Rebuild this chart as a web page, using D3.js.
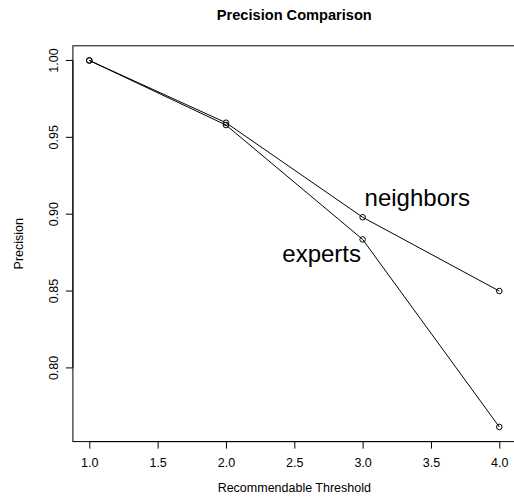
<!DOCTYPE html>
<html>
<head>
<meta charset="utf-8">
<script src="https://cdn.jsdelivr.net/npm/d3@7"></script>
<style>
  html, body { margin: 0; padding: 0; background: #fff; }
  svg { display: block; font-family: "Liberation Sans", Arial, Helvetica, sans-serif; }
</style>
</head>
<body>
<svg id="chart" width="514" height="504"></svg>
<script>
// ---- data ----
const thresholds = [1, 2, 3, 4];
const neighbors = [1.000, 0.9595, 0.898, 0.850];
const experts   = [1.000, 0.958, 0.8836, 0.7616];
const xTicks = [1.0, 1.5, 2.0, 2.5, 3.0, 3.5, 4.0];
const yTicks = [0.80, 0.85, 0.90, 0.95, 1.00];
const seriesLabels = ["neighbors", "experts"];
const labelX = [3.4, 2.7];
const labelY = [0.905, 0.869];

const title = "Precision Comparison";
const xTitle = "Recommendable Threshold";
const yTitle = "Precision";

// ---- layout ----
const svg = d3.select("#chart");
const mLeft = 72.9, mRight = 515.7, mTop = 45.8, mBottom = 441.6;

const xmin = d3.min(thresholds), xmax = d3.max(thresholds);
const allY = neighbors.concat(experts);
const ymin = d3.min(allY), ymax = d3.max(allY);
const xpad = (xmax - xmin) * 0.04, ypad = (ymax - ymin) * 0.04;

const x = d3.scaleLinear().domain([xmin - xpad, xmax + xpad]).range([mLeft, mRight]);
const y = d3.scaleLinear().domain([ymin - ypad, ymax + ypad]).range([mBottom, mTop]);

// box
svg.append("rect")
  .attr("x", mLeft).attr("y", mTop)
  .attr("width", mRight - mLeft).attr("height", mBottom - mTop)
  .attr("fill", "none").attr("stroke", "#000").attr("stroke-width", 1);

// x axis
const xAxis = d3.axisBottom(x).tickValues(xTicks).tickFormat(d3.format(".1f"))
  .tickSize(7).tickPadding(10);
const gx = svg.append("g").attr("transform", `translate(0,${mBottom})`).call(xAxis);
gx.select(".domain").attr("d", `M${x(xTicks[0])},0H${x(xTicks[xTicks.length-1])}`);
gx.selectAll("text").attr("font-size", "12.5px").attr("font-family", "Liberation Sans, Arial, sans-serif").attr("fill", "#000");

// y axis
const yAxis = d3.axisLeft(y).tickValues(yTicks).tickFormat(d3.format(".2f"))
  .tickSize(7).tickPadding(9);
const gy = svg.append("g").attr("transform", `translate(${mLeft},0)`).call(yAxis);
gy.select(".domain").attr("d", `M0,${y(yTicks[0])}V${y(yTicks[yTicks.length-1])}`);
gy.selectAll(".tick").attr("transform", null);
gy.selectAll(".tick line").attr("transform", d => `translate(0,${y(d)})`);
gy.selectAll(".tick text")
  .attr("font-size", "12.5px").attr("font-family", "Liberation Sans, Arial, sans-serif").attr("fill", "#000")
  .attr("x", 0).attr("y", 0).attr("dy", null)
  .attr("text-anchor", "middle")
  .attr("transform", d => `translate(-15,${y(d)}) rotate(-90)`);

// lines and points
const series = [neighbors, experts];
const line = d3.line().x((d, i) => x(thresholds[i])).y(d => y(d));
series.forEach(s => {
  svg.append("path").datum(s)
    .attr("d", line)
    .attr("fill", "none").attr("stroke", "#000").attr("stroke-width", 1);
  svg.selectAll(null).data(s).enter().append("circle")
    .attr("cx", (d, i) => x(thresholds[i]))
    .attr("cy", d => y(d))
    .attr("r", 2.8)
    .attr("fill", "none").attr("stroke", "#000").attr("stroke-width", 1);
});

// series labels
seriesLabels.forEach((lab, i) => {
  svg.append("text")
    .attr("x", x(labelX[i])).attr("y", y(labelY[i]))
    .attr("text-anchor", "middle")
    .attr("font-size", "24px")
    .text(lab);
});

// titles
svg.append("text")
  .attr("x", (mLeft + mRight) / 2).attr("y", 20)
  .attr("text-anchor", "middle").attr("font-weight", "bold").attr("font-size", "14.6px")
  .text(title);

svg.append("text")
  .attr("x", (mLeft + mRight) / 2).attr("y", 492)
  .attr("text-anchor", "middle").attr("font-size", "12.5px")
  .text(xTitle);

svg.append("text")
  .attr("transform", `translate(23,${(mTop + mBottom) / 2}) rotate(-90)`)
  .attr("text-anchor", "middle").attr("font-size", "12.5px")
  .text(yTitle);
</script>
</body>
</html>
